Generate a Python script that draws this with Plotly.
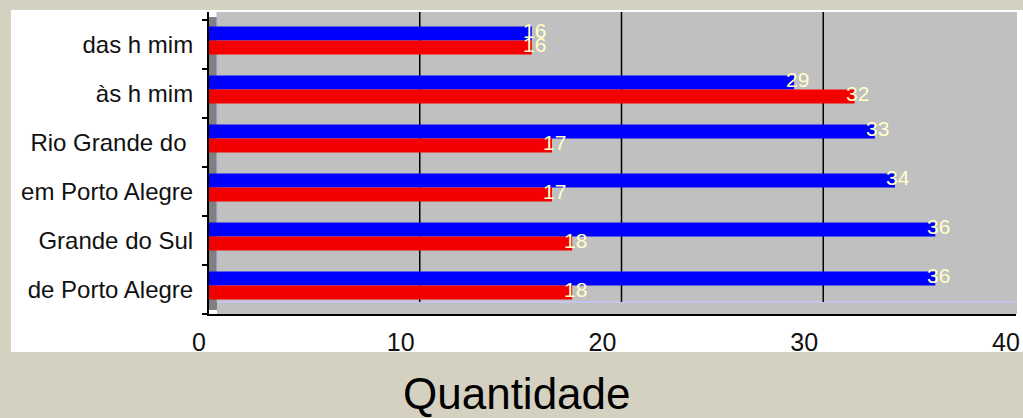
import plotly.graph_objects as go

categories = ["das h mim", "às h mim", "Rio Grande do ", "em Porto Alegre", "Grande do Sul", "de Porto Alegre"]
blue_values = [16, 29, 33, 34, 36, 36]
red_values = [16, 32, 17, 17, 18, 18]
x_ticks = [0, 10, 20, 30, 40]

W, H = 1023, 418
L, R, T, B = 209, 1016, 12, 314  # plot area in pixels
pw, ph = R - L, B - T

def px(p):
    return (p - L) / pw

def py(p):
    return (B - p) / ph

idx = list(range(len(categories)))
bar_w = 0.285
blue_off = -0.367
red_off = blue_off + bar_w

fig = go.Figure()
fig.add_trace(go.Bar(
    y=idx, x=blue_values, orientation="h", name="blue",
    marker=dict(color="#0000FF", line=dict(width=0)),
    width=bar_w, offset=blue_off, hoverinfo="x",
))
fig.add_trace(go.Bar(
    y=idx, x=red_values, orientation="h", name="red",
    marker=dict(color="#F40000", line=dict(width=0)),
    width=bar_w, offset=red_off, hoverinfo="x",
))

font_main = "Liberation Sans, Arial, sans-serif"
annotations = []
for i, (b, r) in enumerate(zip(blue_values, red_values)):
    annotations.append(dict(x=b, y=i + blue_off + bar_w / 2, xref="x", yref="y",
                            text=str(b), showarrow=False, xanchor="center", yanchor="middle",
                            yshift=3, xshift=3,
                            font=dict(family=font_main, size=21, color="#FFFFC8")))
    annotations.append(dict(x=r, y=i + red_off + bar_w / 2, xref="x", yref="y",
                            text=str(r), showarrow=False, xanchor="center", yanchor="middle",
                            yshift=3, xshift=3,
                            font=dict(family=font_main, size=21, color="#FFFFC8")))
annotations.append(dict(x=px(517), y=py(393), xref="paper", yref="paper", text="Quantidade",
                        showarrow=False, xanchor="center", yanchor="middle", borderpad=0,
                        font=dict(family=font_main, size=44, color="#000000")))

shapes = [
    # white panel
    dict(type="rect", xref="paper", yref="paper", x0=px(11), x1=px(1030), y0=py(352), y1=py(10),
         fillcolor="#FFFFFF", line=dict(width=0), layer="below"),
    # gray back wall
    dict(type="rect", xref="paper", yref="paper", x0=px(217), x1=px(1017), y0=py(314), y1=py(12),
         fillcolor="#C0C0C0", line=dict(width=0), layer="below"),
    # dark left wall
    dict(type="rect", xref="paper", yref="paper", x0=px(209), x1=px(217), y0=py(310), y1=py(17),
         fillcolor="#808080", line=dict(width=0), layer="below"),
    # floor edge
    dict(type="line", xref="paper", yref="paper", x0=px(217), x1=px(1017), y0=py(302), y1=py(302),
         line=dict(color="#C4C4F0", width=2), layer="below"),
    dict(type="line", xref="paper", yref="paper", x0=px(217), x1=px(217), y0=py(302), y1=py(12),
         line=dict(color="#B8B8E0", width=1), layer="below"),
]
for v in x_ticks[1:-1]:
    shapes.append(dict(type="line", xref="x", yref="paper", xsizemode="pixel", xanchor=v,
                       x0=9, x1=9, y0=py(302), y1=1, line=dict(color="#000000", width=1.5), layer="below"))

fig.update_layout(
    width=W, height=H, autosize=False,
    margin=dict(l=L, r=W - R, t=T, b=H - B, pad=0, autoexpand=False),
    paper_bgcolor="#D5D1C0",
    plot_bgcolor="rgba(0,0,0,0)",
    showlegend=False,
    barmode="overlay",
    annotations=annotations,
    shapes=shapes,
    xaxis=dict(range=[0, 40], tickvals=x_ticks, showgrid=False, zeroline=False,
               automargin=False,
               showline=True, linecolor="#000000", linewidth=2,
               ticks="outside", ticklen=5, tickcolor="rgba(0,0,0,0)",
               ticklabelshift=-10,
               tickfont=dict(family=font_main, size=25, color="#111111")),
    yaxis=dict(range=[5.5, -0.5 - 8 / 49], tickvals=idx, ticktext=categories,
               showgrid=False, zeroline=False, automargin=False,
               showline=True, linecolor="#000000", linewidth=2,
               ticks="outside", ticklen=9, tickcolor="rgba(0,0,0,0)",
               minor=dict(tickvals=[i - 0.5 for i in range(len(categories) + 1)],
                          ticks="outside", ticklen=5, tickcolor="#000000", tickwidth=2),
               tickfont=dict(family=font_main, size=24, color="#111111")),
)

post = (
    "document.documentElement.style.overflow='hidden';"
    "document.body.style.margin='0';document.body.style.overflow='hidden';"
    "document.body.style.background='#D5D1C0';"
    "document.querySelectorAll('svg.main-svg').forEach(function(s){s.style.overflow='hidden';});"
)
fig.write_html("out.html", config={"displayModeBar": False, "responsive": False}, post_script=post)
